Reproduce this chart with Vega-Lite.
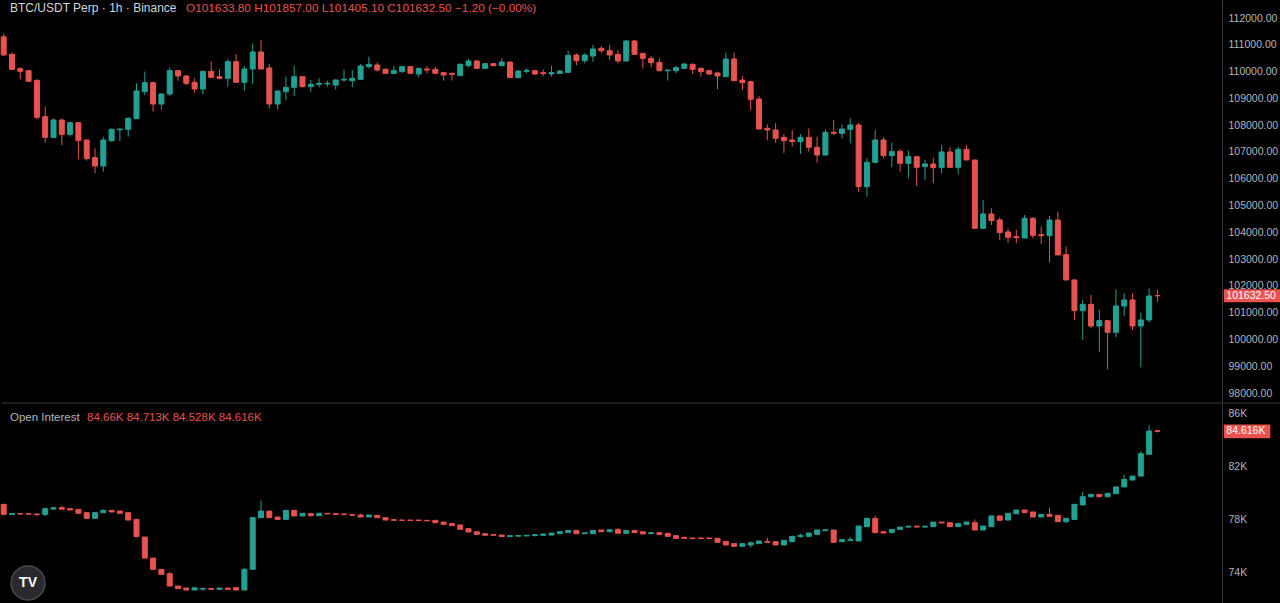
{
  "$schema": "https://vega.github.io/schema/vega-lite/v6.json",
  "background": "#000000",
  "padding": 0,
  "spacing": 0,
  "config": {
    "view": {"stroke": null},
    "scale": {"continuousPadding": 0},
    "axis": {"grid": false, "ticks": false, "title": null, "labelColor": "#b2b5be", "labelFont": "Liberation Sans", "labelFontSize": 10.5, "domainColor": "#363a45", "labelPadding": 6, "labelOverlap": false},
    "text": {"font": "Liberation Sans"}
  },
  "datasets": {
    "price": [
      {"i":0,"o":111300,"h":111420,"l":110580,"c":110620},
      {"i":1,"o":110644,"h":110706,"l":110060,"c":110084},
      {"i":2,"o":110108,"h":110158,"l":109710,"c":110009},
      {"i":3,"o":110034,"h":110050,"l":109620,"c":109636},
      {"i":4,"o":109673,"h":109710,"l":108217,"c":108292},
      {"i":5,"o":108317,"h":108690,"l":107346,"c":107545},
      {"i":6,"o":107545,"h":108254,"l":107545,"c":108192},
      {"i":7,"o":108192,"h":108254,"l":107259,"c":107657},
      {"i":8,"o":107657,"h":108130,"l":107570,"c":108093},
      {"i":9,"o":108093,"h":108110,"l":106724,"c":107420},
      {"i":10,"o":107445,"h":107460,"l":106674,"c":106749},
      {"i":11,"o":106786,"h":107134,"l":106201,"c":106475},
      {"i":12,"o":106475,"h":107570,"l":106263,"c":107445},
      {"i":13,"o":107420,"h":107881,"l":107383,"c":107844},
      {"i":14,"o":107831,"h":107870,"l":107408,"c":107856},
      {"i":15,"o":107844,"h":108292,"l":107570,"c":108254},
      {"i":16,"o":108242,"h":109561,"l":108230,"c":109275},
      {"i":17,"o":109250,"h":109997,"l":109125,"c":109586},
      {"i":18,"o":109586,"h":109623,"l":108503,"c":108789},
      {"i":19,"o":108789,"h":109188,"l":108590,"c":109163},
      {"i":20,"o":109163,"h":110158,"l":109088,"c":110034},
      {"i":21,"o":110034,"h":110059,"l":109660,"c":109835},
      {"i":22,"o":109835,"h":109872,"l":109499,"c":109561},
      {"i":23,"o":109598,"h":109748,"l":109213,"c":109350},
      {"i":24,"o":109350,"h":110034,"l":109150,"c":110009},
      {"i":25,"o":110009,"h":110370,"l":109770,"c":109785},
      {"i":26,"o":109810,"h":110084,"l":109710,"c":109748},
      {"i":27,"o":109748,"h":110457,"l":109437,"c":110370},
      {"i":28,"o":110370,"h":110656,"l":109580,"c":109598},
      {"i":29,"o":109598,"h":110208,"l":109287,"c":110096},
      {"i":30,"o":110096,"h":111054,"l":109536,"c":110731},
      {"i":31,"o":110731,"h":111179,"l":110080,"c":110096},
      {"i":32,"o":110133,"h":110283,"l":108628,"c":108789},
      {"i":33,"o":108789,"h":109310,"l":108590,"c":109275},
      {"i":34,"o":109250,"h":109810,"l":108939,"c":109412},
      {"i":35,"o":109412,"h":110208,"l":109088,"c":109810},
      {"i":36,"o":109810,"h":109835,"l":109400,"c":109437},
      {"i":37,"o":109437,"h":109685,"l":109250,"c":109524},
      {"i":38,"o":109524,"h":109748,"l":109412,"c":109561},
      {"i":39,"o":109540,"h":109660,"l":109437,"c":109561},
      {"i":40,"o":109499,"h":109710,"l":109337,"c":109685},
      {"i":41,"o":109685,"h":110059,"l":109623,"c":109710},
      {"i":42,"o":109660,"h":110059,"l":109412,"c":109748},
      {"i":43,"o":109710,"h":110283,"l":109700,"c":110208},
      {"i":44,"o":110183,"h":110556,"l":110121,"c":110270},
      {"i":45,"o":110245,"h":110333,"l":109997,"c":110059},
      {"i":46,"o":110084,"h":110121,"l":109909,"c":109934},
      {"i":47,"o":109934,"h":110208,"l":109909,"c":110034},
      {"i":48,"o":109997,"h":110208,"l":109959,"c":110183},
      {"i":49,"o":110183,"h":110208,"l":109920,"c":109934},
      {"i":50,"o":109909,"h":110146,"l":109785,"c":110121},
      {"i":51,"o":110096,"h":110208,"l":109934,"c":110059},
      {"i":52,"o":110084,"h":110183,"l":109909,"c":109934},
      {"i":53,"o":109959,"h":109997,"l":109661,"c":109872},
      {"i":54,"o":109934,"h":109950,"l":109661,"c":109897},
      {"i":55,"o":109847,"h":110308,"l":109840,"c":110270},
      {"i":56,"o":110220,"h":110469,"l":110158,"c":110395},
      {"i":57,"o":110395,"h":110432,"l":110096,"c":110121},
      {"i":58,"o":110121,"h":110308,"l":110096,"c":110295},
      {"i":59,"o":110295,"h":110308,"l":110208,"c":110220},
      {"i":60,"o":110220,"h":110494,"l":110208,"c":110357},
      {"i":61,"o":110357,"h":110370,"l":109760,"c":109772},
      {"i":62,"o":109772,"h":110059,"l":109760,"c":110021},
      {"i":63,"o":110009,"h":110121,"l":109934,"c":110046},
      {"i":64,"o":110034,"h":110059,"l":109872,"c":109909},
      {"i":65,"o":109959,"h":110084,"l":109835,"c":109922},
      {"i":66,"o":109909,"h":110208,"l":109810,"c":109959},
      {"i":67,"o":109934,"h":110059,"l":109909,"c":110021},
      {"i":68,"o":109972,"h":110780,"l":109960,"c":110606},
      {"i":69,"o":110619,"h":110681,"l":110245,"c":110407},
      {"i":70,"o":110407,"h":110681,"l":110308,"c":110619},
      {"i":71,"o":110581,"h":110992,"l":110370,"c":110843},
      {"i":72,"o":110868,"h":110955,"l":110681,"c":110780},
      {"i":73,"o":110780,"h":110992,"l":110432,"c":110619},
      {"i":74,"o":110644,"h":110805,"l":110308,"c":110395},
      {"i":75,"o":110395,"h":111179,"l":110380,"c":111141},
      {"i":76,"o":111141,"h":111179,"l":110630,"c":110644},
      {"i":77,"o":110681,"h":110690,"l":110121,"c":110494},
      {"i":78,"o":110494,"h":110581,"l":110158,"c":110333},
      {"i":79,"o":110345,"h":110494,"l":109997,"c":110034},
      {"i":80,"o":110034,"h":110059,"l":109660,"c":110059},
      {"i":81,"o":110034,"h":110208,"l":109934,"c":110146},
      {"i":82,"o":110121,"h":110308,"l":110096,"c":110283},
      {"i":83,"o":110270,"h":110308,"l":109909,"c":110084},
      {"i":84,"o":110121,"h":110158,"l":109810,"c":109997},
      {"i":85,"o":110034,"h":110059,"l":109872,"c":109909},
      {"i":86,"o":109947,"h":109997,"l":109349,"c":109835},
      {"i":87,"o":109810,"h":110706,"l":109800,"c":110469},
      {"i":88,"o":110469,"h":110706,"l":109650,"c":109660},
      {"i":89,"o":109685,"h":109835,"l":109312,"c":109586},
      {"i":90,"o":109623,"h":109661,"l":108566,"c":108963},
      {"i":91,"o":108976,"h":109088,"l":107840,"c":107856},
      {"i":92,"o":107881,"h":108030,"l":107445,"c":107819},
      {"i":93,"o":107819,"h":108068,"l":107346,"c":107508},
      {"i":94,"o":107545,"h":107669,"l":106948,"c":107420},
      {"i":95,"o":107445,"h":107819,"l":107197,"c":107383},
      {"i":96,"o":107383,"h":107669,"l":106923,"c":107545},
      {"i":97,"o":107545,"h":107881,"l":107010,"c":107172},
      {"i":98,"o":107172,"h":107570,"l":106599,"c":106885},
      {"i":99,"o":106885,"h":107844,"l":106870,"c":107732},
      {"i":100,"o":107732,"h":108192,"l":107632,"c":107694},
      {"i":101,"o":107694,"h":108030,"l":107508,"c":107856},
      {"i":102,"o":107844,"h":108254,"l":107321,"c":108006},
      {"i":103,"o":108006,"h":108093,"l":105517,"c":105703},
      {"i":104,"o":105703,"h":106761,"l":105330,"c":106612},
      {"i":105,"o":106612,"h":107819,"l":106575,"c":107445},
      {"i":106,"o":107446,"h":107546,"l":106762,"c":106861},
      {"i":107,"o":106861,"h":107347,"l":106426,"c":107010},
      {"i":108,"o":107023,"h":107098,"l":106264,"c":106575},
      {"i":109,"o":106575,"h":107048,"l":106015,"c":106824},
      {"i":110,"o":106824,"h":106840,"l":105729,"c":106426},
      {"i":111,"o":106450,"h":106699,"l":105953,"c":106550},
      {"i":112,"o":106550,"h":106761,"l":105828,"c":106413},
      {"i":113,"o":106413,"h":107259,"l":106202,"c":106998},
      {"i":114,"o":106998,"h":107172,"l":106410,"c":106426},
      {"i":115,"o":106426,"h":107197,"l":106177,"c":107098},
      {"i":116,"o":107098,"h":107259,"l":106690,"c":106699},
      {"i":117,"o":106699,"h":106710,"l":104140,"c":104148},
      {"i":118,"o":104148,"h":105206,"l":104140,"c":104683},
      {"i":119,"o":104683,"h":104895,"l":104273,"c":104435},
      {"i":120,"o":104460,"h":104559,"l":103713,"c":103987},
      {"i":121,"o":104012,"h":104148,"l":103613,"c":103813},
      {"i":122,"o":103837,"h":104087,"l":103589,"c":103800},
      {"i":123,"o":103788,"h":104646,"l":103775,"c":104522},
      {"i":124,"o":104522,"h":104559,"l":103775,"c":103887},
      {"i":125,"o":103912,"h":104211,"l":103564,"c":103875},
      {"i":126,"o":103874,"h":104609,"l":102879,"c":104459},
      {"i":127,"o":104459,"h":104771,"l":103150,"c":103153},
      {"i":128,"o":103165,"h":103464,"l":102210,"c":102220},
      {"i":129,"o":102220,"h":102230,"l":100726,"c":101074},
      {"i":130,"o":101074,"h":101473,"l":99979,"c":101311},
      {"i":131,"o":101311,"h":101660,"l":100415,"c":100502},
      {"i":132,"o":100502,"h":101099,"l":99544,"c":100701},
      {"i":133,"o":100701,"h":100726,"l":98885,"c":100266},
      {"i":134,"o":100266,"h":101871,"l":100079,"c":101249},
      {"i":135,"o":101249,"h":101722,"l":100875,"c":101473},
      {"i":136,"o":101473,"h":101722,"l":100353,"c":100502},
      {"i":137,"o":100502,"h":100999,"l":98959,"c":100726},
      {"i":138,"o":100726,"h":101908,"l":100627,"c":101622},
      {"i":139,"o":101633.8,"h":101857,"l":101405.1,"c":101632.5}
    ],
    "oi": [
      {"i":0,"o":79.1,"h":79.15,"l":78.3,"c":78.35},
      {"i":1,"o":78.35,"h":78.42,"l":78.35,"c":78.42},
      {"i":2,"o":78.42,"h":78.42,"l":78.37,"c":78.37},
      {"i":3,"o":78.4,"h":78.4,"l":78.36,"c":78.36},
      {"i":4,"o":78.38,"h":78.38,"l":78.2,"c":78.34},
      {"i":5,"o":78.35,"h":78.85,"l":78.22,"c":78.78},
      {"i":6,"o":78.75,"h":78.85,"l":78.75,"c":78.85},
      {"i":7,"o":78.86,"h":79.0,"l":78.74,"c":78.74},
      {"i":8,"o":78.78,"h":78.78,"l":78.68,"c":78.68},
      {"i":9,"o":78.73,"h":78.73,"l":78.43,"c":78.43},
      {"i":10,"o":78.48,"h":78.48,"l":78.05,"c":78.05},
      {"i":11,"o":78.05,"h":78.48,"l":78.05,"c":78.48},
      {"i":12,"o":78.48,"h":78.72,"l":78.48,"c":78.65},
      {"i":13,"o":78.65,"h":78.65,"l":78.53,"c":78.53},
      {"i":14,"o":78.6,"h":78.6,"l":78.43,"c":78.43},
      {"i":15,"o":78.48,"h":78.48,"l":77.92,"c":77.92},
      {"i":16,"o":77.97,"h":77.97,"l":76.67,"c":76.67},
      {"i":17,"o":76.64,"h":76.64,"l":75.05,"c":75.05},
      {"i":18,"o":75.05,"h":75.05,"l":74.2,"c":74.2},
      {"i":19,"o":74.2,"h":74.2,"l":73.82,"c":73.82},
      {"i":20,"o":73.87,"h":74.0,"l":72.94,"c":72.94},
      {"i":21,"o":72.94,"h":72.94,"l":72.74,"c":72.74},
      {"i":22,"o":72.79,"h":72.79,"l":72.64,"c":72.64},
      {"i":23,"o":72.64,"h":72.81,"l":72.64,"c":72.81},
      {"i":24,"o":72.71,"h":72.81,"l":72.58,"c":72.76},
      {"i":25,"o":72.76,"h":72.76,"l":72.69,"c":72.69},
      {"i":26,"o":72.69,"h":72.79,"l":72.69,"c":72.79},
      {"i":27,"o":72.79,"h":72.79,"l":72.69,"c":72.69},
      {"i":28,"o":72.82,"h":72.82,"l":72.64,"c":72.64},
      {"i":29,"o":72.64,"h":74.33,"l":72.64,"c":74.2},
      {"i":30,"o":74.2,"h":78.1,"l":74.2,"c":78.1},
      {"i":31,"o":78.1,"h":79.41,"l":78.1,"c":78.6},
      {"i":32,"o":78.6,"h":78.6,"l":78.1,"c":78.1},
      {"i":33,"o":78.15,"h":78.15,"l":77.97,"c":77.97},
      {"i":34,"o":77.97,"h":78.65,"l":77.97,"c":78.65},
      {"i":35,"o":78.65,"h":78.65,"l":78.23,"c":78.23},
      {"i":36,"o":78.23,"h":78.43,"l":78.23,"c":78.43},
      {"i":37,"o":78.4,"h":78.45,"l":78.2,"c":78.25},
      {"i":38,"o":78.25,"h":78.43,"l":78.25,"c":78.43},
      {"i":39,"o":78.43,"h":78.43,"l":78.38,"c":78.38},
      {"i":40,"o":78.4,"h":78.4,"l":78.35,"c":78.35},
      {"i":41,"o":78.38,"h":78.38,"l":78.33,"c":78.33},
      {"i":42,"o":78.33,"h":78.33,"l":78.28,"c":78.28},
      {"i":43,"o":78.3,"h":78.4,"l":78.15,"c":78.15},
      {"i":44,"o":78.15,"h":78.3,"l":78.15,"c":78.3},
      {"i":45,"o":78.28,"h":78.28,"l":78.1,"c":78.1},
      {"i":46,"o":78.1,"h":78.1,"l":77.92,"c":77.92},
      {"i":47,"o":77.95,"h":77.95,"l":77.9,"c":77.9},
      {"i":48,"o":77.92,"h":77.92,"l":77.9,"c":77.9},
      {"i":49,"o":77.92,"h":77.92,"l":77.88,"c":77.88},
      {"i":50,"o":77.92,"h":77.92,"l":77.88,"c":77.88},
      {"i":51,"o":77.9,"h":77.9,"l":77.86,"c":77.86},
      {"i":52,"o":77.9,"h":77.9,"l":77.72,"c":77.72},
      {"i":53,"o":77.77,"h":77.77,"l":77.6,"c":77.6},
      {"i":54,"o":77.65,"h":77.65,"l":77.5,"c":77.5},
      {"i":55,"o":77.55,"h":77.55,"l":77.22,"c":77.22},
      {"i":56,"o":77.27,"h":77.27,"l":77.02,"c":77.02},
      {"i":57,"o":77.04,"h":77.04,"l":76.84,"c":76.84},
      {"i":58,"o":76.89,"h":76.89,"l":76.77,"c":76.77},
      {"i":59,"o":76.82,"h":76.82,"l":76.77,"c":76.77},
      {"i":60,"o":76.79,"h":76.79,"l":76.67,"c":76.67},
      {"i":61,"o":76.67,"h":76.74,"l":76.67,"c":76.74},
      {"i":62,"o":76.7,"h":76.75,"l":76.7,"c":76.75},
      {"i":63,"o":76.72,"h":76.77,"l":76.72,"c":76.77},
      {"i":64,"o":76.74,"h":76.82,"l":76.74,"c":76.82},
      {"i":65,"o":76.77,"h":76.87,"l":76.77,"c":76.87},
      {"i":66,"o":76.79,"h":76.94,"l":76.79,"c":76.94},
      {"i":67,"o":76.89,"h":77.04,"l":76.89,"c":77.04},
      {"i":68,"o":76.99,"h":77.14,"l":76.99,"c":77.14},
      {"i":69,"o":77.14,"h":77.14,"l":76.89,"c":76.89},
      {"i":70,"o":76.89,"h":76.96,"l":76.89,"c":76.96},
      {"i":71,"o":76.89,"h":77.14,"l":76.89,"c":77.14},
      {"i":72,"o":77.17,"h":77.17,"l":77.04,"c":77.04},
      {"i":73,"o":77.04,"h":77.19,"l":77.04,"c":77.19},
      {"i":74,"o":77.22,"h":77.3,"l":76.92,"c":76.92},
      {"i":75,"o":76.92,"h":77.14,"l":76.92,"c":77.14},
      {"i":76,"o":77.14,"h":77.14,"l":76.97,"c":76.97},
      {"i":77,"o":77.04,"h":77.04,"l":76.87,"c":76.87},
      {"i":78,"o":76.89,"h":76.97,"l":76.89,"c":76.97},
      {"i":79,"o":76.97,"h":76.97,"l":76.84,"c":76.84},
      {"i":80,"o":76.92,"h":76.92,"l":76.69,"c":76.69},
      {"i":81,"o":76.74,"h":76.74,"l":76.54,"c":76.54},
      {"i":82,"o":76.62,"h":76.62,"l":76.54,"c":76.54},
      {"i":83,"o":76.57,"h":76.57,"l":76.52,"c":76.52},
      {"i":84,"o":76.57,"h":76.57,"l":76.52,"c":76.52},
      {"i":85,"o":76.57,"h":76.57,"l":76.52,"c":76.52},
      {"i":86,"o":76.54,"h":76.54,"l":76.24,"c":76.24},
      {"i":87,"o":76.31,"h":76.31,"l":76.04,"c":76.04},
      {"i":88,"o":76.14,"h":76.14,"l":75.94,"c":75.94},
      {"i":89,"o":75.94,"h":76.14,"l":75.94,"c":76.14},
      {"i":90,"o":76.04,"h":76.29,"l":75.84,"c":76.21},
      {"i":91,"o":76.14,"h":76.34,"l":76.14,"c":76.34},
      {"i":92,"o":76.31,"h":76.59,"l":76.24,"c":76.24},
      {"i":93,"o":76.29,"h":76.29,"l":76.04,"c":76.04},
      {"i":94,"o":76.04,"h":76.39,"l":76.04,"c":76.39},
      {"i":95,"o":76.29,"h":76.69,"l":76.29,"c":76.69},
      {"i":96,"o":76.67,"h":76.89,"l":76.59,"c":76.77},
      {"i":97,"o":76.69,"h":76.94,"l":76.69,"c":76.94},
      {"i":98,"o":76.84,"h":77.17,"l":76.84,"c":77.17},
      {"i":99,"o":77.12,"h":77.19,"l":77.12,"c":77.19},
      {"i":100,"o":77.17,"h":77.17,"l":76.24,"c":76.24},
      {"i":101,"o":76.29,"h":76.44,"l":76.29,"c":76.44},
      {"i":102,"o":76.39,"h":76.64,"l":76.34,"c":76.44},
      {"i":103,"o":76.34,"h":77.47,"l":76.34,"c":77.47},
      {"i":104,"o":77.42,"h":78.05,"l":77.42,"c":78.05},
      {"i":105,"o":78.05,"h":78.23,"l":76.97,"c":76.97},
      {"i":106,"o":77.04,"h":77.04,"l":76.94,"c":76.94},
      {"i":107,"o":76.97,"h":77.22,"l":76.97,"c":77.22},
      {"i":108,"o":77.22,"h":77.39,"l":77.22,"c":77.39},
      {"i":109,"o":77.39,"h":77.46,"l":77.39,"c":77.46},
      {"i":110,"o":77.46,"h":77.46,"l":77.39,"c":77.39},
      {"i":111,"o":77.39,"h":77.46,"l":77.39,"c":77.46},
      {"i":112,"o":77.42,"h":77.77,"l":77.42,"c":77.77},
      {"i":113,"o":77.77,"h":77.77,"l":77.7,"c":77.7},
      {"i":114,"o":77.72,"h":77.72,"l":77.42,"c":77.42},
      {"i":115,"o":77.42,"h":77.65,"l":77.42,"c":77.65},
      {"i":116,"o":77.6,"h":77.77,"l":77.6,"c":77.77},
      {"i":117,"o":77.72,"h":77.97,"l":77.17,"c":77.17},
      {"i":118,"o":77.17,"h":77.47,"l":77.17,"c":77.47},
      {"i":119,"o":77.42,"h":78.23,"l":77.42,"c":78.23},
      {"i":120,"o":78.23,"h":78.23,"l":77.9,"c":77.9},
      {"i":121,"o":77.92,"h":78.43,"l":77.92,"c":78.43},
      {"i":122,"o":78.4,"h":78.68,"l":78.4,"c":78.68},
      {"i":123,"o":78.68,"h":78.68,"l":78.48,"c":78.48},
      {"i":124,"o":78.53,"h":78.53,"l":78.15,"c":78.15},
      {"i":125,"o":78.15,"h":78.35,"l":78.15,"c":78.35},
      {"i":126,"o":78.35,"h":78.85,"l":78.2,"c":78.2},
      {"i":127,"o":78.28,"h":78.28,"l":77.8,"c":77.8},
      {"i":128,"o":77.8,"h":78.05,"l":77.7,"c":78.05},
      {"i":129,"o":77.97,"h":79.11,"l":77.97,"c":79.11},
      {"i":130,"o":79.06,"h":80.04,"l":79.06,"c":79.68},
      {"i":131,"o":79.68,"h":79.86,"l":79.68,"c":79.86},
      {"i":132,"o":79.86,"h":79.86,"l":79.68,"c":79.68},
      {"i":133,"o":79.68,"h":79.94,"l":79.68,"c":79.94},
      {"i":134,"o":79.91,"h":80.42,"l":79.91,"c":80.42},
      {"i":135,"o":80.42,"h":81.32,"l":80.42,"c":80.99},
      {"i":136,"o":80.94,"h":81.24,"l":80.94,"c":81.24},
      {"i":137,"o":81.24,"h":83.13,"l":81.24,"c":82.93},
      {"i":138,"o":82.88,"h":85.09,"l":82.88,"c":84.64},
      {"i":139,"o":84.66,"h":84.713,"l":84.528,"c":84.616}
    ]
  },
  "vconcat": [
    {
      "width": 1220,
      "height": 402,
      "data": {"name": "price"},
      "layer": [
        {
          "mark": {"type": "rule", "strokeWidth": 1},
          "encoding": {
            "x": {"field": "i", "type": "quantitative", "scale": {"domain": [-0.205, 146.78], "nice": false, "zero": false, "padding": 0}, "axis": null},
            "y": {"field": "l", "type": "quantitative", "scale": {"domain": [97664, 112672], "nice": false, "zero": false, "padding": 0},
                  "axis": {"orient": "right", "values": [98000,99000,100000,101000,102000,103000,104000,105000,106000,107000,108000,109000,110000,111000,112000], "tickCount": 20, "format": ".2f", "title": null, "labelOverlap": false}},
            "y2": {"field": "h"},
            "color": {"condition": {"test": "datum.c >= datum.o", "value": "#23a094"}, "value": "#e8524f"}
          }
        },
        {
          "mark": {"type": "bar", "size": 5, "strokeWidth": 1},
          "encoding": {
            "x": {"field": "i", "type": "quantitative", "scale": {"domain": [-0.205, 146.78], "nice": false, "zero": false, "padding": 0}, "axis": null},
            "y": {"field": "o", "type": "quantitative", "scale": {"domain": [97664, 112672], "nice": false, "zero": false, "padding": 0},
                  "axis": {"orient": "right", "values": [98000,99000,100000,101000,102000,103000,104000,105000,106000,107000,108000,109000,110000,111000,112000], "tickCount": 20, "format": ".2f", "title": null, "labelOverlap": false}},
            "y2": {"field": "c"},
            "color": {"condition": {"test": "datum.c >= datum.o", "value": "#23a094"}, "value": "#e8524f"},
            "stroke": {"condition": {"test": "datum.c >= datum.o", "value": "#23a094"}, "value": "#e8524f"}
          }
        },
        {
          "data": {"values": [{"t": "BTC/USDT Perp · 1h · Binance"}]},
          "mark": {"type": "text", "align": "left", "baseline": "middle", "fontSize": 12, "color": "#d1d4dc"},
          "encoding": {
            "x": {"datum": 0.759, "type": "quantitative"},
            "y": {"datum": 112373, "type": "quantitative"},
            "text": {"field": "t"}
          }
        },
        {
          "data": {"values": [{"t": "O101633.80 H101857.00 L101405.10 C101632.50 −1.20 (−0.00%)"}]},
          "mark": {"type": "text", "align": "left", "baseline": "middle", "fontSize": 11.8, "color": "#e8524f"},
          "encoding": {
            "x": {"datum": 21.96, "type": "quantitative"},
            "y": {"datum": 112373, "type": "quantitative"},
            "text": {"field": "t"}
          }
        },
        {
          "data": {"values": [{"t": "101632.50"}]},
          "mark": {"type": "rect", "color": "#e8524f"},
          "encoding": {
            "x": {"datum": 147.0, "type": "quantitative"},
            "x2": {"datum": 153.8},
            "y": {"datum": 101875, "type": "quantitative"},
            "y2": {"datum": 101390}
          }
        },
        {
          "data": {"values": [{"t": "101632.50"}]},
          "mark": {"type": "text", "align": "left", "baseline": "middle", "fontSize": 10.5, "color": "#ffffff"},
          "encoding": {
            "x": {"datum": 147.3, "type": "quantitative"},
            "y": {"datum": 101632.5, "type": "quantitative"},
            "text": {"field": "t"}
          }
        }
      ]
    },
    {
      "width": 1220,
      "height": 201,
      "data": {"name": "oi"},
      "layer": [
        {
          "mark": {"type": "rule", "strokeWidth": 1},
          "encoding": {
            "x": {"field": "i", "type": "quantitative", "scale": {"domain": [-0.205, 146.78], "nice": false, "zero": false, "padding": 0}, "axis": null},
            "y": {"field": "l", "type": "quantitative", "scale": {"domain": [71.585, 86.755], "nice": false, "zero": false, "padding": 0},
                  "axis": {"orient": "right", "values": [74, 78, 82, 86], "tickCount": 10, "labelExpr": "datum.value + 'K'", "title": null, "labelOverlap": false}},
            "y2": {"field": "h"},
            "color": {"condition": {"test": "datum.c >= datum.o", "value": "#23a094"}, "value": "#e8524f"}
          }
        },
        {
          "mark": {"type": "bar", "size": 5, "strokeWidth": 1},
          "encoding": {
            "x": {"field": "i", "type": "quantitative", "scale": {"domain": [-0.205, 146.78], "nice": false, "zero": false, "padding": 0}, "axis": null},
            "y": {"field": "o", "type": "quantitative", "scale": {"domain": [71.585, 86.755], "nice": false, "zero": false, "padding": 0},
                  "axis": {"orient": "right", "values": [74, 78, 82, 86], "tickCount": 10, "labelExpr": "datum.value + 'K'", "title": null, "labelOverlap": false}},
            "y2": {"field": "c"},
            "color": {"condition": {"test": "datum.c >= datum.o", "value": "#23a094"}, "value": "#e8524f"},
            "stroke": {"condition": {"test": "datum.c >= datum.o", "value": "#23a094"}, "value": "#e8524f"}
          }
        },
        {
          "data": {"values": [{"t": "sep"}]},
          "mark": {"type": "rule", "color": "#363a45", "strokeWidth": 1},
          "encoding": {
            "x": {"datum": -0.205, "type": "quantitative"},
            "x2": {"datum": 153.9},
            "y": {"datum": 86.755, "type": "quantitative"}
          }
        },
        {
          "data": {"values": [{"t": "Open Interest"}]},
          "mark": {"type": "text", "align": "left", "baseline": "middle", "fontSize": 11.5, "color": "#b2b5be"},
          "encoding": {
            "x": {"datum": 0.759, "type": "quantitative"},
            "y": {"datum": 85.62, "type": "quantitative"},
            "text": {"field": "t"}
          }
        },
        {
          "data": {"values": [{"t": "84.66K  84.713K  84.528K  84.616K"}]},
          "mark": {"type": "text", "align": "left", "baseline": "middle", "fontSize": 11.5, "color": "#e8524f"},
          "encoding": {
            "x": {"datum": 10.04, "type": "quantitative"},
            "y": {"datum": 85.62, "type": "quantitative"},
            "text": {"field": "t"}
          }
        },
        {
          "data": {"values": [{"t": "84.616K"}]},
          "mark": {"type": "rect", "color": "#e8524f"},
          "encoding": {
            "x": {"datum": 147.0, "type": "quantitative"},
            "x2": {"datum": 152.6},
            "y": {"datum": 85.14, "type": "quantitative"},
            "y2": {"datum": 84.09}
          }
        },
        {
          "data": {"values": [{"t": "84.616K"}]},
          "mark": {"type": "text", "align": "left", "baseline": "middle", "fontSize": 10.5, "color": "#ffffff"},
          "encoding": {
            "x": {"datum": 147.3, "type": "quantitative"},
            "y": {"datum": 84.616, "type": "quantitative"},
            "text": {"field": "t"}
          }
        },
        {
          "data": {"values": [{"t": "logo"}]},
          "mark": {"type": "point", "shape": "circle", "filled": true, "size": 1150, "color": "#2a2a2e", "stroke": "#4a4a50", "strokeWidth": 1.5, "opacity": 1},
          "encoding": {
            "x": {"datum": 2.93, "type": "quantitative"},
            "y": {"datum": 73.17, "type": "quantitative"}
          }
        },
        {
          "data": {"values": [{"t": "TV"}]},
          "mark": {"type": "text", "align": "center", "baseline": "middle", "fontSize": 14, "fontWeight": "bold", "color": "#ffffff"},
          "encoding": {
            "x": {"datum": 2.93, "type": "quantitative"},
            "y": {"datum": 73.17, "type": "quantitative"},
            "text": {"field": "t"}
          }
        }
      ]
    }
  ]
}
